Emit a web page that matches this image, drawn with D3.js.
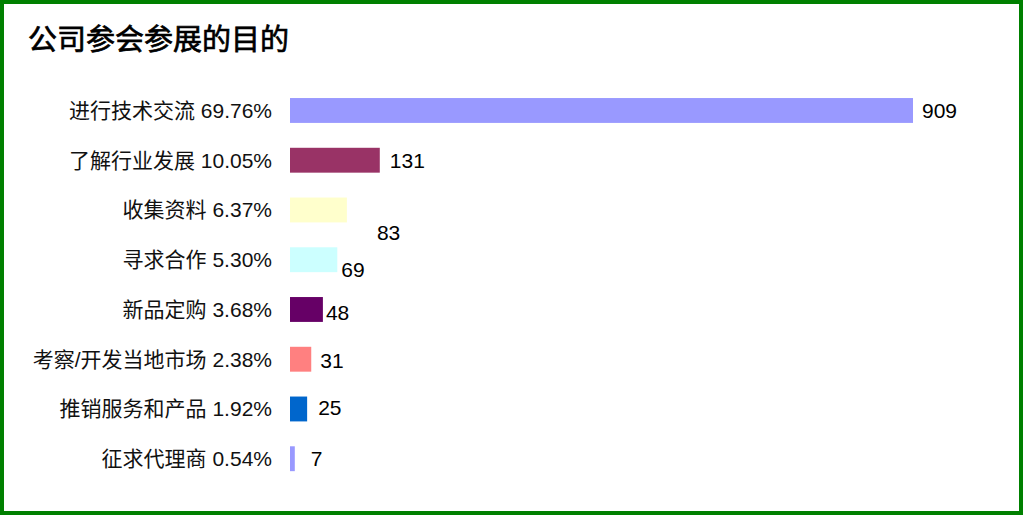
<!DOCTYPE html>
<html lang="zh">
<head>
  <meta charset="UTF-8" />
  <title>公司参会参展的目的</title>
  <style>
    body { margin: 0; background: #fff; }
    svg { display: block; }
    .cat { font-family: "Liberation Sans", Arial, "Noto Sans CJK SC", sans-serif; font-size: 21px; fill: #111; }
    .val { font-family: "Liberation Sans", Arial, sans-serif; font-size: 21px; fill: #000; }
    .title { font-family: "Noto Sans CJK SC", sans-serif; font-size: 29px; fill: #000; stroke: #000; stroke-width: 0.7px; }
  </style>
</head>
<body>
  <svg id="chart"></svg>

  <script src="https://d3js.org/d3.v7.min.js"></script>
  <script>
    // data
    const categories = ["进行技术交流", "了解行业发展", "收集资料", "寻求合作", "新品定购", "考察/开发当地市场", "推销服务和产品", "征求代理商"];
    const counts = [909, 131, 83, 69, 48, 31, 25, 7];
    const percents = ["69.76%", "10.05%", "6.37%", "5.30%", "3.68%", "2.38%", "1.92%", "0.54%"];

    const colors = ["#9999ff", "#993366", "#ffffcc", "#ccffff", "#660066", "#ff8080", "#0066cc", "#9999ff"];
    // value labels are nudged the same way the original chart placed them
    const nudge = [[9, 0], [10, 0], [30, 23], [4, 10], [3, 3], [9, 1], [11, -1], [16, 0]];

    const W = 1023, H = 515;
    const data = categories.map((c, i) => ({ cat: c, n: counts[i], pct: percents[i], i }));

    const svg = d3.select("#chart")
      .attr("width", W)
      .attr("height", H);

    svg.append("rect")
      .attr("x", 2).attr("y", 2)
      .attr("width", W - 4).attr("height", H - 4)
      .attr("fill", "#fff")
      .attr("stroke", "#008000")
      .attr("stroke-width", 4);

    svg.append("text")
      .attr("class", "title")
      .attr("x", 28)
      .attr("y", 50)
      .text("公司参会参展的目的");

    const x = d3.scaleLinear()
      .domain([0, d3.max(counts)])
      .range([290, 913]);

    const y = d3.scaleBand()
      .domain(categories)
      .range([85.6, 483.6])
      .paddingInner(0.5)
      .paddingOuter(0.25);

    // category axis, no line or ticks
    const yAxis = svg.append("g")
      .attr("transform", "translate(272,0)")
      .call(d3.axisLeft(y).tickSize(0).tickPadding(0).tickFormat((d, i) => `${d} ${percents[i]}`));
    yAxis.select(".domain").remove();
    yAxis.selectAll("text")
      .attr("class", "cat")
      .attr("dy", "0.35em");
    yAxis.attr("font-size", null).attr("font-family", null);

    svg.selectAll(".bar")
      .data(data)
      .join("rect")
      .attr("class", "bar")
      .attr("x", x(0))
      .attr("y", d => y(d.cat))
      .attr("width", d => x(d.n) - x(0))
      .attr("height", y.bandwidth())
      .attr("fill", d => colors[d.i]);

    svg.selectAll(".val")
      .data(data)
      .join("text")
      .attr("class", "val")
      .attr("x", d => x(d.n) + nudge[d.i][0])
      .attr("y", d => y(d.cat) + y.bandwidth() / 2 + nudge[d.i][1])
      .attr("dy", "0.35em")
      .text(d => d.n);
  </script>
</body>
</html>
